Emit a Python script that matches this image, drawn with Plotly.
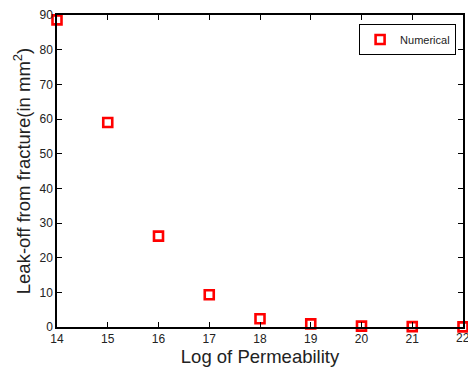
import plotly.graph_objects as go

log_perm = [14, 15, 16, 17, 18, 19, 20, 21, 22]
leak_off = [88.6, 59.0, 26.2, 9.3, 2.4, 0.9, 0.25, 0.1, 0.05]
x_ticks = [14, 15, 16, 17, 18, 19, 20, 21]
y_ticks = [0, 10, 20, 30, 40, 50, 60, 70, 80, 90]

font_family = "Liberation Sans, Arial, Helvetica, sans-serif"

fig = go.Figure()
fig.add_trace(go.Scatter(
    x=log_perm, y=leak_off, mode="markers", name="Numerical",
    marker=dict(symbol="square-open", size=9, color="#ff0000",
                line=dict(color="#ff0000", width=2.6)),
    cliponaxis=False,
))

axis_common = dict(
    showline=True, linecolor="black", linewidth=1.5, mirror="ticks",
    ticks="inside", ticklen=5, tickwidth=1, tickcolor="black",
    showgrid=False, zeroline=False,
    tickfont=dict(family=font_family, size=12, color="#222"),
)

fig.update_layout(
    width=468, height=368,
    margin=dict(l=57, r=3, t=15, b=41),
    paper_bgcolor="white", plot_bgcolor="white",
    font=dict(family=font_family, color="#222"),
    xaxis=dict(range=[14, 22], tickvals=x_ticks + [22],
               title=dict(text="Log of Permeability", font=dict(size=18.5), standoff=2),
               **axis_common),
    yaxis=dict(range=[0, 90], tickvals=y_ticks,
               title=dict(text="Leak-off from fracture(in mm<sup>2</sup>)", font=dict(size=18.5), standoff=4),
               **axis_common),
    showlegend=True,
    legend=dict(x=0.983, y=0.971, xanchor="right", yanchor="top",
                bordercolor="black", borderwidth=1, bgcolor="white",
                font=dict(size=11, family=font_family, color="#222")),
)

# last tick label, partly cut by the page edge as in the reference
fig.add_annotation(x=x_ticks[-1] + 1, y=0, xref="x", yref="paper", yanchor="top",
                   yshift=-2, text="22", showarrow=False,
                   font=dict(family=font_family, size=12, color="#222"))

fig.write_html("out.html")
